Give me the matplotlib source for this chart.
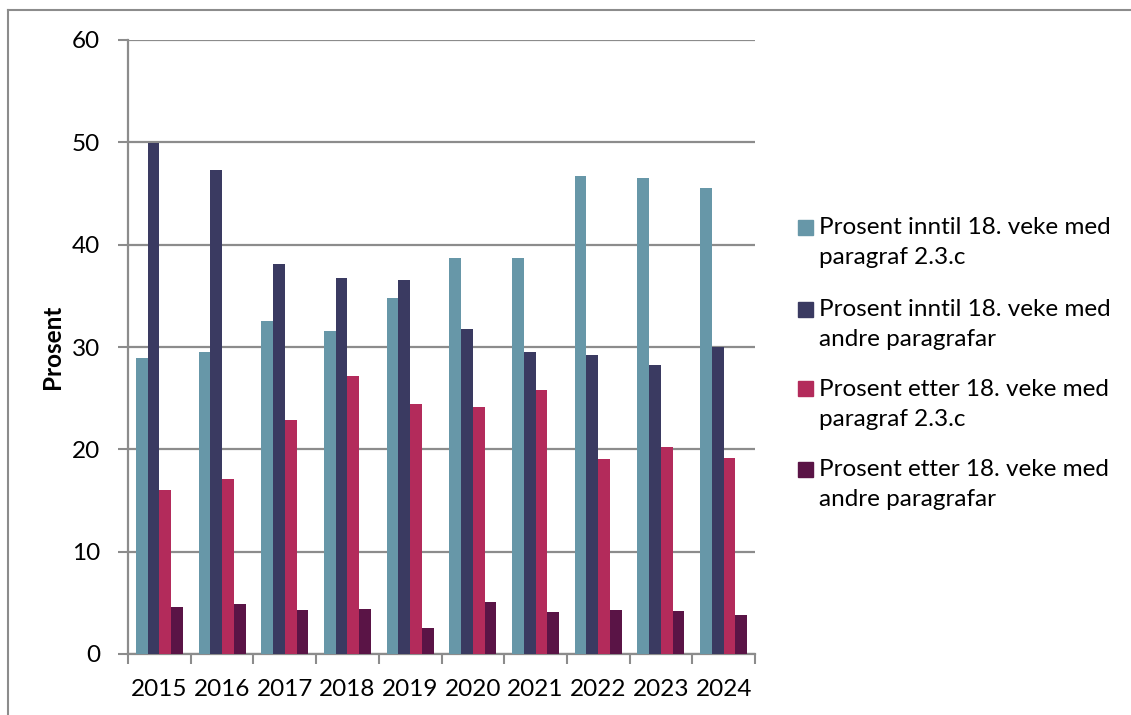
import matplotlib
matplotlib.use("Agg")
import matplotlib.pyplot as plt
from matplotlib.patches import Rectangle
from matplotlib.lines import Line2D
import numpy as np

years = ["2015", "2016", "2017", "2018", "2019", "2020", "2021", "2022", "2023", "2024"]
inntil_23c = [28.9, 29.5, 32.5, 31.6, 34.8, 38.7, 38.7, 46.7, 46.5, 45.5]
inntil_andre = [49.9, 47.3, 38.1, 36.7, 36.5, 31.8, 29.5, 29.2, 28.2, 30.0]
etter_23c = [16.0, 17.1, 22.9, 27.2, 24.4, 24.1, 25.8, 19.1, 20.2, 19.2]
etter_andre = [4.6, 4.9, 4.3, 4.4, 2.5, 5.1, 4.1, 4.3, 4.2, 3.8]
series_labels = [
    ["Prosent inntil 18. veke med", "paragraf 2.3.c"],
    ["Prosent inntil 18. veke med", "andre paragrafar"],
    ["Prosent etter 18. veke med", "paragraf 2.3.c"],
    ["Prosent etter 18. veke med", "andre paragrafar"],
]
colors = ["#6797A8", "#3A3A61", "#B32B5B", "#5A1446"]
y_ticks = [0, 10, 20, 30, 40, 50, 60]

W, H = 1131, 715
fig = plt.figure(figsize=(W / 100, H / 100), dpi=100)
plt.rcParams['font.family'] = ['Lato', 'DejaVu Sans']
FS = 17.5

def fx(px):
    return px / W

def fy(py):
    return 1 - py / H

left, right, top, bottom = 128, 755, 40, 654
ax = fig.add_axes([fx(left), fy(bottom), fx(right - left), (bottom - top) / H])

series = [inntil_23c, inntil_andre, etter_23c, etter_andre]
n = len(years)
x = np.arange(n)
bw = 0.75 / 4
for i, (vals, c) in enumerate(zip(series, colors)):
    ax.bar(x - 0.375 + bw * (i + 0.5), vals, width=bw, color=c, zorder=3,
           edgecolor='none')

ax.set_xlim(-0.5, n - 0.5)
ax.set_ylim(0, 60)
ax.set_yticks(y_ticks)
ax.set_yticklabels([str(t) for t in y_ticks], fontsize=FS)
ax.yaxis.grid(True, color='#8C8C8C', linewidth=1.6, zorder=0)
ax.set_axisbelow(True)

ax.set_xticks(np.arange(-0.5, n, 1.0), minor=False)
ax.set_xticklabels([])
ax.set_xticks(x, minor=True)
ax.set_xticklabels(years, minor=True, fontsize=FS)
ax.tick_params(axis='x', which='major', length=7, color='#8C8C8C', width=1.5, direction='out')
ax.tick_params(axis='x', which='minor', length=0, pad=18)
ax.tick_params(axis='y', length=7, color='#8C8C8C', width=1.5, pad=13)

for s in ['top', 'right']:
    ax.spines[s].set_visible(False)
for s in ['left', 'bottom']:
    ax.spines[s].set_color('#8C8C8C')
    ax.spines[s].set_linewidth(1.6)

fig.text(fx(52), fy(347), "Prosent", rotation=90, fontsize=FS, fontweight='bold',
         ha='center', va='center')

# legend
entry_y = [228, 310, 389, 470]
for (l1, l2), c, yy in zip(series_labels, colors, entry_y):
    fig.patches.append(Rectangle((fx(798), fy(yy + 7)), fx(15), 15 / H,
                                 transform=fig.transFigure, color=c, figure=fig))
    fig.text(fx(819), fy(yy), l1, fontsize=FS, ha='left', va='center')
    fig.text(fx(819), fy(yy + 30), l2, fontsize=FS, ha='left', va='center')

# outer frame
fig.add_artist(Line2D([fx(8), 1], [fy(10), fy(10)], color='#8C8C8C', linewidth=1.5,
                      transform=fig.transFigure))
fig.add_artist(Line2D([fx(8), fx(8)], [fy(10), 0], color='#8C8C8C', linewidth=1.5,
                      transform=fig.transFigure))

fig.savefig("out.png", dpi=100)
